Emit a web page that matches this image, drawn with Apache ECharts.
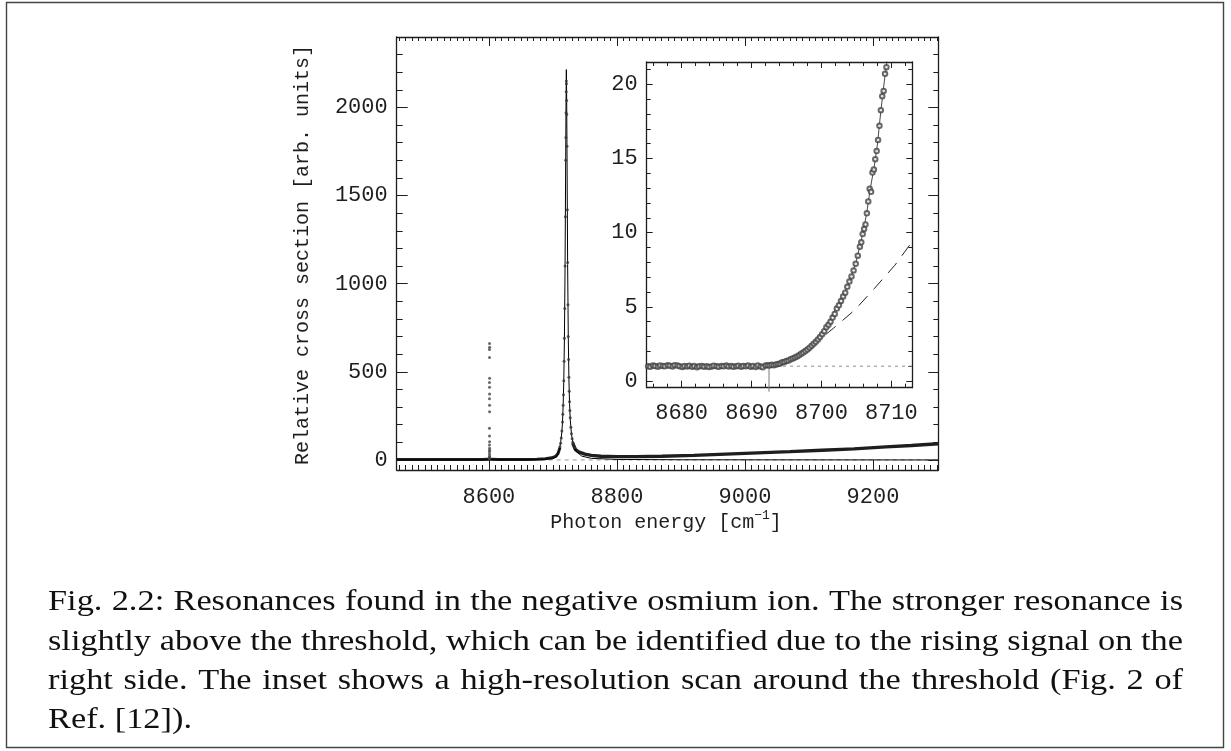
<!DOCTYPE html>
<html>
<head>
<meta charset="utf-8">
<script src="https://cdn.jsdelivr.net/npm/echarts@6/dist/echarts.min.js"></script>
<style>
html,body{margin:0;padding:0;background:#fff;}
#chart{width:1231px;height:751px;}
</style>
</head>
<body>
<div id="chart"></div>
<script>
// ---------------- DATA ----------------
const mainXTicks = [8600, 8800, 9000, 9200];
const mainYTicks = [0, 500, 1000, 1500, 2000];
const insetXTicks = [8680, 8690, 8700, 8710];
const insetYTicks = [0, 5, 10, 15, 20];

// dense scan (drawn as thick band) below and above the main resonance
const scanBandLeft = [[8456,2],[8470,3],[8485,2],[8500,3],[8515,2],[8530,3],[8545,2],[8560,3],[8575,2],[8590,3],[8598,4],[8601,9],[8604,4],[8615,2],[8630,3],[8645,3],[8660,3],[8675,4],[8688,7],[8698,12],[8704,20],[8708,36],[8711,70]];
const scanBandRight = [[8731,95],[8735,60],[8740,46],[8750,33],[8760,26],[8775,21],[8800,19],[8830,19],[8870,21],[8920,26],[8970,33],[9020,40],[9070,47],[9120,55],[9170,63],[9220,74],[9260,82],[9302,92]];
// individual points on the strong resonance
const peakDots = [[8711,75],[8712,95],[8713,125],[8714,165],[8715,215],[8715.5,260],[8716,310],[8716.5,370],[8717,450],[8717.5,560],[8718,690],[8718.5,860],[8719,1100],[8719.5,1380],[8720,1700],[8720.3,1830],[8720.5,1970],[8720.8,2090],[8721,2150],[8721.2,2135],[8721.4,2040],[8721.6,1960],[8722,1780],[8722.5,1420],[8723,1120],[8723.5,880],[8724,700],[8724.5,570],[8725,470],[8725.5,390],[8726,330],[8726.5,280],[8727,240],[8728,185],[8729,148],[8730,120],[8731,100],[8732,86],[8734,70]];
// points of the narrow resonance near 8600
const sideDots = [[8601.0,661],[8601.1,640],[8600.9,627],[8601.0,582],[8601.1,463],[8600.9,440],[8601.0,412],[8601.1,374],[8600.9,348],[8601.0,310],[8601.1,274],[8600.9,180],[8601.0,136],[8601.1,104],[8600.9,85],[8601.0,66],[8601.1,55],[8600.9,47],[8601.0,34],[8601.1,23],[8600.9,15],[8601.0,10],[8601.1,6]];
// fitted curve in the main panel
const mainFit = [[8456,0],[8680,2],[8700,7],[8706,18],[8710,60],[8712,95],[8714,160],[8715,215],[8716,310],[8717,450],[8718,690],[8719,1100],[8720,1720],[8720.5,2030],[8721,2215],[8721.5,2060],[8722,1760],[8723,1110],[8724,700],[8725,460],[8726,320],[8727,235],[8729,145],[8732,85],[8736,50],[8745,22],[8760,9],[8800,3],[8900,1],[9302,0]];

// inset: high-resolution scan around the threshold
const insetScan = [[8675.2,1.00],[8675.5,0.96],[8675.9,1.04],[8676.2,1.01],[8676.6,0.97],[8676.9,1.05],[8677.3,1.02],[8677.6,0.99],[8678.0,1.06],[8678.3,1.03],[8678.7,0.98],[8679.0,1.07],[8679.4,1.04],[8679.7,1.00],[8680.1,0.95],[8680.4,1.02],[8680.8,0.98],[8681.1,1.03],[8681.5,0.96],[8681.8,1.01],[8682.2,0.93],[8682.5,0.99],[8682.9,1.02],[8683.2,0.97],[8683.6,1.00],[8683.9,0.95],[8684.3,0.98],[8684.6,1.03],[8685.0,1.00],[8685.3,0.96],[8685.7,1.01],[8686.0,0.99],[8686.4,1.04],[8686.7,0.98],[8687.1,1.02],[8687.4,0.97],[8687.8,1.00],[8688.1,1.03],[8688.5,0.96],[8688.8,1.01],[8689.2,0.99],[8689.5,1.04],[8689.9,0.97],[8690.2,1.02],[8690.6,0.95],[8690.9,1.05],[8691.3,0.98],[8691.6,0.93],[8692.0,1.04],[8692.3,1.06],
[8692.6,1.05],[8692.9,1.09],[8693.2,1.07],[8693.5,1.12],[8693.8,1.15],[8694.1,1.18],[8694.4,1.26],[8694.7,1.29],[8695.0,1.35],[8695.3,1.38],[8695.6,1.46],[8695.9,1.52],[8696.2,1.58],[8696.5,1.66],[8696.8,1.74],[8697.1,1.84],[8697.4,1.92],[8697.7,2.02],[8698.0,2.12],[8698.3,2.25],[8698.6,2.38],[8698.9,2.52],[8699.2,2.64],[8699.5,2.80],[8699.8,2.96],[8700.1,3.16],[8700.4,3.36],[8700.7,3.62],[8701.0,3.80],[8701.3,4.00],[8701.6,4.28],[8701.9,4.52],[8702.2,4.88],[8702.5,5.10],[8702.8,5.40],[8703.1,5.70],[8703.4,5.95],[8703.7,6.35],[8704.0,6.70],[8704.3,7.05],[8704.6,7.45],[8704.9,7.90],[8705.2,8.45],[8705.5,9.05],[8705.7,9.35],[8705.9,9.90],[8706.1,10.25],[8706.3,10.55],[8706.5,11.30],[8706.7,12.10],[8706.9,12.95],[8707.1,12.75],[8707.3,14.05],[8707.5,14.25],[8707.7,14.95],[8707.9,15.50],[8708.1,16.25],[8708.3,17.20],[8708.5,18.25],[8708.7,19.20],[8708.9,19.55],[8709.1,20.70],[8709.3,21.15]];
const insetFit = [[8675,1.0],[8692.5,1.0],[8693,1.07],[8694,1.2],[8695,1.4],[8696,1.6],[8697,1.9],[8698,2.2],[8699,2.6],[8700,3.1],[8701,3.9],[8702,4.85],[8703,5.65],[8704,6.7],[8705,8.1],[8706,10.1],[8706.5,11.4],[8707,13.0],[8707.5,14.3],[8708,15.9],[8708.5,18.2],[8709,20.2],[8709.5,22.0]];
const insetDashed = [[8692.5,1.0],[8695,1.3],[8697.5,1.9],[8700,2.9],[8701.7,3.55],[8704.8,4.8],[8707.6,6.25],[8710.5,7.8],[8713,9.4]];
const thresholdEnergy = 8692.5;
const thresholdLevel = 1.0;

const captionLines = [
  "Fig. 2.2: Resonances found in the negative osmium ion.  The stronger resonance is",
  "slightly above the threshold, which can be identified due to the rising signal on the",
  "right side.  The inset shows a high-resolution scan around the threshold (Fig. 2 of",
  "Ref. [12])."
];

// ---------------- LAYOUT / STYLE ----------------
const INK = '#1e1e1e';
const MONO = '"Liberation Mono", "DejaVu Sans Mono", monospace';
const MAIN = {min: 8456, max: 9302, ymin: -57, ymax: 2400};
const INSET = {min: 8675, max: 8713, ymin: -0.45, ymax: 21.5};

function steps(a, b, s) { const r = []; for (let v = a; v <= b + 1e-9; v += s) r.push(+v.toFixed(4)); return r; }

function mkAxis(grid, pos, min, max, ticks, len, opts) {
  opts = opts || {};
  return {
    type: 'value', gridIndex: grid, position: pos, min: min, max: max,
    axisLine: {show: !!opts.line, onZero: false, lineStyle: {color: INK, width: 1.3}},
    axisTick: {show: true, inside: true, length: len, customValues: ticks, lineStyle: {color: INK, width: 1}},
    axisLabel: opts.labels ? {show: true, customValues: ticks, color: INK, fontFamily: MONO, fontSize: 22,
      margin: opts.margin, formatter: function (v) { return String(v); }} : {show: false},
    splitLine: {show: false}
  };
}

const xAxes = [
  mkAxis(0, 'bottom', MAIN.min, MAIN.max, mainXTicks, 10, {line: true, labels: true, margin: 16}),
  mkAxis(0, 'bottom', MAIN.min, MAIN.max, steps(8460, 9300, 10), 5),
  mkAxis(0, 'top', MAIN.min, MAIN.max, mainXTicks, 9, {line: true}),
  mkAxis(0, 'top', MAIN.min, MAIN.max, steps(8460, 9300, 10), 4),
  mkAxis(1, 'bottom', INSET.min, INSET.max, insetXTicks, 7, {line: true, labels: true, margin: 14}),
  mkAxis(1, 'bottom', INSET.min, INSET.max, steps(8676, 8712, 2), 4),
  mkAxis(1, 'top', INSET.min, INSET.max, insetXTicks, 6, {line: true}),
  mkAxis(1, 'top', INSET.min, INSET.max, steps(8676, 8712, 2), 4)
];
const yAxes = [
  mkAxis(0, 'left', MAIN.ymin, MAIN.ymax, mainYTicks, 11, {line: true, labels: true, margin: 9}),
  mkAxis(0, 'left', MAIN.ymin, MAIN.ymax, steps(0, 2300, 100), 6),
  mkAxis(0, 'right', MAIN.ymin, MAIN.ymax, mainYTicks, 10, {line: true}),
  mkAxis(0, 'right', MAIN.ymin, MAIN.ymax, steps(0, 2300, 100), 5),
  mkAxis(1, 'left', INSET.ymin, INSET.ymax, insetYTicks, 6, {line: true, labels: true, margin: 9}),
  mkAxis(1, 'left', INSET.ymin, INSET.ymax, steps(0, 21, 1), 4),
  mkAxis(1, 'right', INSET.ymin, INSET.ymax, insetYTicks, 6, {line: true}),
  mkAxis(1, 'right', INSET.ymin, INSET.ymax, steps(0, 21, 1), 4)
];

function lineSeries(name, data, ax, style, extra) {
  return Object.assign({
    name: name, type: 'line', data: data, xAxisIndex: ax, yAxisIndex: ax,
    symbol: 'none', lineStyle: style, silent: true, z: 3
  }, extra || {});
}

const series = [
  lineSeries('zero', [[MAIN.min, 0], [MAIN.max, 0]], 0, {color: '#9a9a9a', width: 1, type: [4, 4]}, {z: 2}),
  lineSeries('scanLeft', scanBandLeft, 0, {color: INK, width: 3.0}),
  lineSeries('scanRight', scanBandRight, 0, {color: INK, width: 3.4}),
  lineSeries('fit', mainFit, 0, {color: '#000', width: 1}, {z: 4}),
  {name: 'peakDots', type: 'scatter', data: peakDots, xAxisIndex: 0, yAxisIndex: 0, symbol: 'circle', symbolSize: 3, itemStyle: {color: '#333'}, silent: true, z: 5},
  {name: 'sideDots', type: 'scatter', data: sideDots, xAxisIndex: 0, yAxisIndex: 0, symbol: 'circle', symbolSize: 3, itemStyle: {color: '#444'}, silent: true, z: 5},
  // inset
  lineSeries('insetLevel', [[thresholdEnergy, thresholdLevel], [INSET.max, thresholdLevel]], 4, {color: '#8a8a8a', width: 1, type: [3, 4]}, {z: 2}),
  lineSeries('threshold', [[thresholdEnergy, thresholdLevel], [thresholdEnergy, -0.72]], 4, {color: '#777', width: 1}, {clip: false, z: 2}),
  lineSeries('insetDashed', insetDashed, 4, {color: '#222', width: 1, type: [13, 9]}, {z: 3}),
  lineSeries('insetFit', insetFit, 4, {color: '#333', width: 0.9}, {z: 4}),
  {name: 'insetScan', type: 'scatter', data: insetScan, xAxisIndex: 4, yAxisIndex: 4, symbol: 'emptyCircle', symbolSize: 4.5, itemStyle: {color: '#444', borderColor: '#444', borderWidth: 0.8}, silent: true, z: 5}
];

// ---------------- CAPTION (justified, Computer-Modern-like width) ----------------
const CAP_FONT_SIZE = 29;
const CAP_FAMILY = '"Liberation Serif", "DejaVu Serif", serif';
const capLeft = 48, capRight = 1183;
const capY = [602, 642, 681, 720];
const measureCtx = document.createElement('canvas').getContext('2d');
measureCtx.font = CAP_FONT_SIZE + 'px ' + CAP_FAMILY;
const spaceW = measureCtx.measureText(' ').width;
function splitWords(line) { return line.split(/ +/); }
// horizontal stretch so that lines set with normal spacing fill the measure
let stretch = Infinity;
captionLines.slice(0, 3).forEach(function (line) {
  const natural = measureCtx.measureText(line).width;
  stretch = Math.min(stretch, (capRight - capLeft) / natural);
});
const graphics = [];
graphics.push({type: 'rect', shape: {x: 6.5, y: 2.5, width: 1217, height: 745}, style: {fill: 'none', stroke: '#444', lineWidth: 1.4}, silent: true, z: 0});
captionLines.forEach(function (line, i) {
  const words = splitWords(line);
  const widths = words.map(function (w) { return measureCtx.measureText(w).width * stretch; });
  const total = widths.reduce(function (a, b) { return a + b; }, 0);
  const justify = i < captionLines.length - 1;
  const gap = justify ? (capRight - capLeft - total) / (words.length - 1) : spaceW * stretch;
  let x = capLeft;
  words.forEach(function (w, k) {
    graphics.push({type: 'text', x: x, y: capY[i], scaleX: stretch, silent: true,
      style: {text: w, fill: '#111', fontSize: CAP_FONT_SIZE, fontFamily: CAP_FAMILY, align: 'left', verticalAlign: 'middle'}});
    x += widths[k] + gap;
  });
});
graphics.push({type: 'text', x: 303, y: 255, rotation: Math.PI / 2, silent: true,
  style: {text: 'Relative cross section [arb. units]', fill: INK, fontSize: 20, fontFamily: MONO, align: 'center', verticalAlign: 'middle'}});
graphics.push({type: 'text', x: 666, y: 521, silent: true,
  style: {text: '{n|Photon energy [cm}{s|−1}{n|]}', align: 'center', verticalAlign: 'middle',
    rich: {n: {fill: INK, fontSize: 20, fontFamily: MONO, verticalAlign: 'bottom', lineHeight: 24},
           s: {fill: INK, fontSize: 13, fontFamily: MONO, verticalAlign: 'top', padding: [0, 0, 12, 0], lineHeight: 24}}}});

const option = {
  animation: false,
  backgroundColor: '#fff',
  grid: [
    {left: 396.7, top: 37, right: 292.7, bottom: 281, containLabel: false},
    {left: 646.7, top: 62, right: 318.7, bottom: 363.3, containLabel: false}
  ],
  xAxis: xAxes,
  yAxis: yAxes,
  series: series,
  graphic: graphics
};

const chart = echarts.init(document.getElementById('chart'), null, {renderer: 'canvas'});
chart.setOption(option);
</script>
</body>
</html>
